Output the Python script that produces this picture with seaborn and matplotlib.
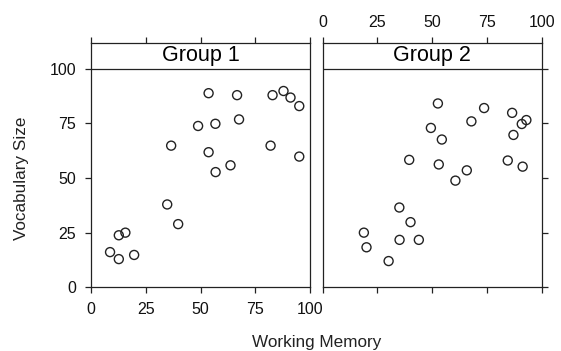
import matplotlib
matplotlib.use("Agg")
import matplotlib.pyplot as plt
import numpy as np
import pandas as pd
import seaborn as sns

# values
g1_memory = [53.7, 66.7, 82.9, 87.9, 91.1, 95.1, 48.9, 56.8, 67.6, 36.6, 53.7,
             82.0, 95.1, 63.7, 56.9, 34.8, 39.8, 12.7, 15.7, 8.7, 12.7, 19.7]
g1_vocab = [88.8, 87.9, 87.9, 89.8, 86.8, 82.9, 73.8, 74.8, 76.8, 64.8, 61.8,
            64.8, 59.8, 55.8, 52.7, 37.9, 28.9, 23.8, 25.0, 16.1, 12.9, 14.8]
g2_memory = [52.6, 73.7, 86.5, 67.9, 93.0, 90.9, 49.4, 54.4, 87.1, 39.5, 53.0,
             84.5, 91.3, 65.8, 60.6, 35.0, 40.1, 18.8, 20.0, 35.1, 43.9, 30.1]
g2_vocab = [84.1, 82.0, 79.8, 75.9, 76.5, 74.7, 72.9, 67.6, 69.7, 58.3, 56.2,
            58.0, 55.2, 53.5, 48.8, 36.5, 29.8, 25.0, 18.3, 21.7, 21.7, 12.0]
groups = ["Group 1", "Group 2"]
ticks = [0, 25, 50, 75, 100]

df = pd.DataFrame({
    "Memory": g1_memory + g2_memory,
    "Vocab": g1_vocab + g2_vocab,
    "Group": [groups[0]] * len(g1_memory) + [groups[1]] * len(g2_memory),
})

sns.set_theme(style="white")
plt.rcParams['font.family'] = ['Liberation Sans', 'DejaVu Sans']
ink = "#222222"

g = sns.FacetGrid(df, col="Group", col_order=groups, despine=False)
g.map_dataframe(sns.scatterplot, x="Memory", y="Vocab", s=42,
                facecolor="none", edgecolor=ink, linewidth=1.0)
fig = g.figure
fig.set_size_inches(5.61, 3.51)

W, H = 561, 351
bottom_px, top_px, strip_px = 287.3, 42.7, 68.7
ymax = 100 * (bottom_px - top_px) / (bottom_px - strip_px)
lefts = [91.0, 322.7]
width = 219.0

for i, ax in enumerate(g.axes.flat):
    ax.set_position([lefts[i] / W, (H - bottom_px) / H, width / W, (bottom_px - top_px) / H])
    ax.set_xlim(0, 100)
    ax.set_ylim(0, ymax)
    ax.set_xticks(ticks)
    ax.set_yticks(ticks)
    ax.set_title("")
    ax.set_xlabel("")
    ax.set_ylabel("")
    for sp in ax.spines.values():
        sp.set_color(ink)
        sp.set_linewidth(0.9)
    ax.axhline(100, color=ink, lw=0.9)
    ax.text(50, (100 + ymax) / 2, groups[i], ha="center", va="center",
            fontsize=15.5, color="black")
    ax.tick_params(direction="out", length=4.3, width=0.9, color=ink,
                   labelsize=11.5, labelcolor="#111111", pad=6.5)
    if i == 0:
        ax.tick_params(left=True, labelleft=True, right=False, labelright=False,
                       top=True, labeltop=False, bottom=True, labelbottom=True)
    else:
        ax.tick_params(left=False, labelleft=False, right=True, labelright=False,
                       top=True, labeltop=True, bottom=True, labelbottom=False)
        ax.tick_params(axis="x", which="both", pad=5)

fig.text(316.5 / W, 1 - 342 / H, "Working Memory", ha="center", va="center",
         fontsize=12.3, color=ink)
fig.text(22 / W, 1 - 178 / H, "Vocabulary Size", ha="center", va="center",
         rotation=90, fontsize=12.3, color=ink)

fig.savefig("out.png", dpi=100)
